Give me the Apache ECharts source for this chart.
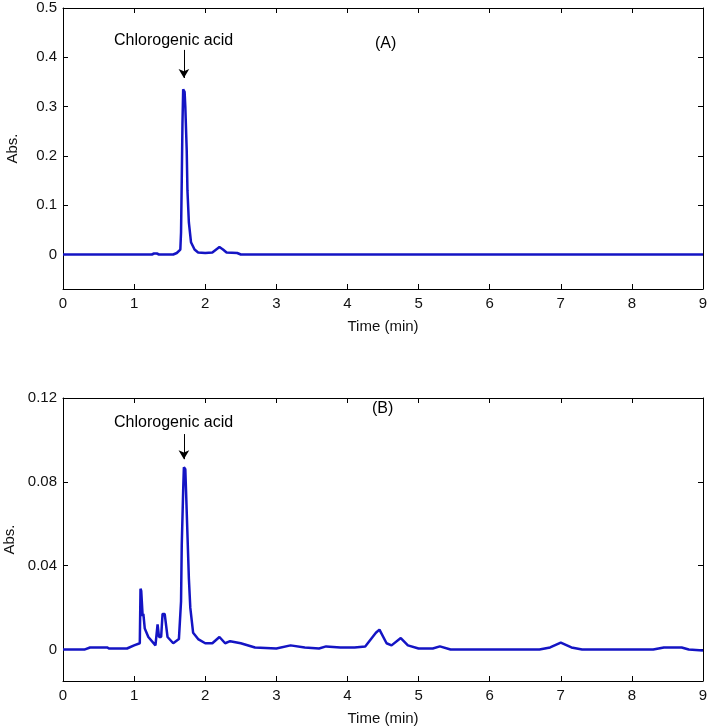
<!DOCTYPE html>
<html>
<head>
<meta charset="utf-8"/>
<style>
html,body{margin:0;padding:0;background:#fff;}
#chart{width:709px;height:726px;}
</style>
</head>
<body>
<div id="chart"></div>
<script src="https://cdn.jsdelivr.net/npm/echarts@6/dist/echarts.min.js"></script>
<script>
// (A) standard
var timeA = [0, 1.25, 1.28, 1.32, 1.35, 1.55, 1.6, 1.65, 1.66, 1.67, 1.68, 1.69, 1.71, 1.72, 1.74, 1.75, 1.77, 1.8, 1.85, 1.9, 2.0, 2.1, 2.2, 2.25, 2.3, 2.45, 2.5, 9];
var absA  = [0, 0, 0.002, 0.002, 0, 0, 0.003, 0.01, 0.045, 0.15, 0.265, 0.335, 0.33, 0.3, 0.21, 0.13, 0.065, 0.025, 0.01, 0.004, 0.003, 0.004, 0.015, 0.01, 0.004, 0.003, 0, 0];
// (B) sample
var timeB = [0, 0.3, 0.38, 0.62, 0.65, 0.9, 1.0, 1.08, 1.09, 1.1, 1.12, 1.13, 1.15, 1.2, 1.3, 1.33, 1.35, 1.38, 1.4, 1.43, 1.47, 1.55, 1.63, 1.66, 1.67, 1.69, 1.70, 1.72, 1.73, 1.75, 1.77, 1.79, 1.83, 1.9, 2.0, 2.1, 2.2, 2.28, 2.35, 2.5, 2.7, 3.0, 3.2, 3.4, 3.6, 3.7, 3.9, 4.1, 4.25, 4.4, 4.45, 4.55, 4.62, 4.75, 4.85, 5.0, 5.2, 5.3, 5.45, 6.7, 6.85, 7.0, 7.15, 7.3, 8.3, 8.45, 8.7, 8.8, 9];
var absB  = [0, 0, 0.001, 0.001, 0.0005, 0.0005, 0.002, 0.003, 0.029, 0.028, 0.016, 0.017, 0.01, 0.006, 0.002, 0.012, 0.006, 0.006, 0.017, 0.017, 0.006, 0.003, 0.005, 0.023, 0.05, 0.076, 0.087, 0.086, 0.076, 0.055, 0.034, 0.02, 0.008, 0.005, 0.003, 0.003, 0.006, 0.003, 0.004, 0.003, 0.001, 0.0005, 0.002, 0.001, 0.0005, 0.0015, 0.001, 0.001, 0.0015, 0.008, 0.0095, 0.003, 0.002, 0.0055, 0.002, 0.0005, 0.0005, 0.0015, 0, 0, 0.001, 0.0033, 0.001, 0, 0, 0.001, 0.001, 0, -0.0005];
var xTicks = [0, 1, 2, 3, 4, 5, 6, 7, 8, 9];
var yTicksA = [0, 0.1, 0.2, 0.3, 0.4, 0.5];
var yTicksB = [0, 0.04, 0.08, 0.12];

function pairs(xs, ys) { return xs.map(function (x, i) { return [x, ys[i]]; }); }

var font = { color: '#111', fontSize: 15, fontFamily: 'Liberation Sans, Arial, sans-serif' };
var line = { onZero: false, lineStyle: { color: '#000', width: 1 } };

function xAx(g, bottom) {
  return {
    type: 'value', gridIndex: g, min: 0, max: 9, position: bottom ? 'bottom' : 'top',
    name: bottom ? 'Time (min)' : '', nameLocation: 'middle', nameGap: 30, nameTextStyle: font,
    axisLine: line,
    axisTick: { inside: true, length: 5, customValues: xTicks, lineStyle: { color: '#000' } },
    axisLabel: Object.assign({ show: bottom, customValues: xTicks, margin: 7 }, font), splitLine: { show: false }
  };
}
function yAx(g, min, max, ticks, left) {
  return {
    type: 'value', gridIndex: g, min: min, max: max, position: left ? 'left' : 'right',
    name: left ? 'Abs.' : '', nameLocation: 'middle', nameGap: 43, nameTextStyle: font,
    axisLine: line,
    axisTick: { inside: true, length: 5, customValues: ticks, lineStyle: { color: '#000' } },
    axisLabel: Object.assign({ show: left, customValues: ticks, margin: 6 }, font),
    splitLine: { show: false }
  };
}
function arrow(y1, y2) {
  return {
    silent: true, symbol: ['none', 'arrow'], symbolSize: [8, 9],
    lineStyle: { color: '#000', width: 1, type: 'solid' }, label: { show: false },
    data: [[{ coord: [1.7, y1] }, { coord: [1.7, y2] }]]
  };
}

var chart = echarts.init(document.getElementById('chart'));
chart.setOption({
  animation: false,
  grid: [
    { left: 63, top: 8, width: 640, height: 281, outerBoundsMode: 'none', containLabel: false },
    { left: 63, top: 398, width: 640, height: 283, outerBoundsMode: 'none', containLabel: false }
  ],
  xAxis: [xAx(0, true), xAx(0, false), xAx(1, true), xAx(1, false)],
  yAxis: [yAx(0, -0.07, 0.5, yTicksA, true), yAx(0, -0.07, 0.5, yTicksA, false),
          yAx(1, -0.015, 0.12, yTicksB, true), yAx(1, -0.015, 0.12, yTicksB, false)],
  series: [
    { type: 'line', xAxisIndex: 0, yAxisIndex: 0, data: pairs(timeA, absA), showSymbol: false,
      lineStyle: { color: '#1414c4', width: 2.5 }, markLine: arrow(0.415, 0.358) },
    { type: 'line', xAxisIndex: 2, yAxisIndex: 2, data: pairs(timeB, absB), showSymbol: false,
      lineStyle: { color: '#1414c4', width: 2.5 }, markLine: arrow(0.1028, 0.0908) }
  ],
  graphic: [
    { type: 'text', left: 114, top: 33, style: Object.assign({ text: 'Chlorogenic acid' }, font, { fontSize: 16 }) },
    { type: 'text', left: 375, top: 36, style: Object.assign({ text: '(A)' }, font, { fontSize: 16 }) },
    { type: 'text', left: 114, top: 415, style: Object.assign({ text: 'Chlorogenic acid' }, font, { fontSize: 16 }) },
    { type: 'text', left: 372, top: 401, style: Object.assign({ text: '(B)' }, font, { fontSize: 16 }) }
  ]
});
</script>
</body>
</html>
